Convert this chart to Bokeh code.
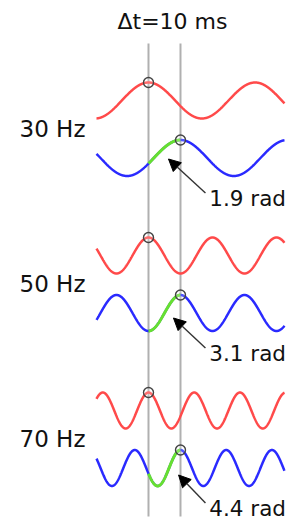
import numpy as np
from bokeh.plotting import figure
from bokeh.models import Range1d, Arrow, NormalHead
from bokeh.core.properties import value
from bokeh.embed import file_html
from bokeh.resources import INLINE

# ---- chart data ----
freqs_hz = [30, 50, 70]
freq_labels = ["30 Hz", "50 Hz", "70 Hz"]
delta_t_ms = 10
delta_label = "\u0394t=10 ms"
phase_labels = ["1.9 rad", "3.1 rad", "4.4 rad"]
t_start_ms = -16.25
t_end_ms = 42.5
arrow_tip_t = [6.25, 7.8, 9.4]

# ---- layout (pixel-like y units, downward) ----
red_centers = [100, 255, 410]
blue_offset = 57.5
amp = 18

RED = "#ff4a4a"
BLUE = "#2a2aff"
GREEN = "#66e030"
FONT = "DejaVu Sans"

p = figure(width=295, height=519, output_backend="svg", toolbar_location=None,
           x_range=Range1d(-46.25, 45.94), y_range=Range1d(519, 0),
           min_border=0)
p.axis.visible = False
p.grid.visible = False
p.outline_line_color = None
p.background_fill_color = "white"
p.border_fill_color = "white"

# vertical reference lines
p.segment(x0=[0, delta_t_ms], x1=[0, delta_t_ms], y0=[43, 43], y1=[516, 516],
          line_color="#b0b0b0", line_width=2)

t = np.linspace(t_start_ms, t_end_ms, 800)
tg = np.linspace(0, delta_t_ms, 200)
for i, f in enumerate(freqs_hz):
    rc = red_centers[i]
    bc = rc + blue_offset
    red = rc - amp * np.cos(2 * np.pi * f * t / 1000.0)
    blue = bc - amp * np.cos(2 * np.pi * f * (t - delta_t_ms) / 1000.0)
    green = bc - amp * np.cos(2 * np.pi * f * (tg - delta_t_ms) / 1000.0)
    p.line(t, red, line_color=RED, line_width=2.5)
    p.line(t, blue, line_color=BLUE, line_width=2.5)
    p.line(tg, green, line_color=GREEN, line_width=3)
    p.scatter([0, delta_t_ms], [rc - amp, bc - amp], size=10, marker="circle",
              fill_color="white", fill_alpha=0.2, line_color="#444444", line_width=1.4)
    # frequency label
    p.text(x=[-19.7], y=[(rc + bc) / 2], text=[freq_labels[i]], text_align="right",
           text_baseline="middle", text_font=value(FONT), text_font_size="23px",
           text_color="#111111")
    # arrow + phase label
    tip_y = bc + [1, 5, 7][i]
    tail_y = bc + 35
    p.add_layout(Arrow(x_start=17.8, y_start=tail_y, x_end=arrow_tip_t[i], y_end=tip_y,
                       line_color="#333333", line_width=1.4,
                       end=NormalHead(size=12, fill_color="black", line_color="black")))
    p.text(x=[19.0], y=[bc + 40], text=[phase_labels[i]], text_align="left",
           text_baseline="middle", text_font=value(FONT), text_font_size="21.5px",
           text_color="#111111")

p.text(x=[7.5], y=[21], text=[delta_label], text_align="center", text_baseline="middle",
       text_font=value(FONT), text_font_size="22px", text_color="#111111")

open("out.html", "w").write(file_html(p, INLINE))
